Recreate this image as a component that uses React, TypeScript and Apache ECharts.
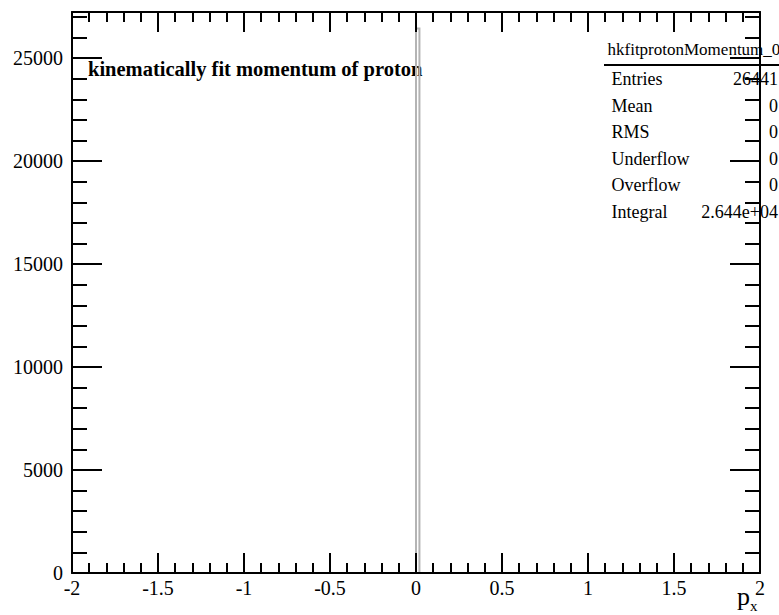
import React, { useEffect, useRef } from "react";
import * as echarts from "echarts";

// Histogram: kinematically fit momentum of proton (p_x)
const binLowEdges = [0.0];
const binWidth = 0.02;
const binCounts = [26441];

const xMin = -2;
const xMax = 2;
const yMax = 27240;

const histTitle = "kinematically fit momentum of proton";
const statsTitle = "hkfitprotonMomentum_0";
const statLabels = ["Entries", "Mean", "RMS", "Underflow", "Overflow", "Integral"];
const statValues = ["26441", "0", "0", "0", "0", "2.644e+04"];

const FONT = "'Liberation Serif', 'Times New Roman', serif";
const INK = "#000000";

export default function App() {
  const ref = useRef<HTMLDivElement>(null);

  useEffect(() => {
    if (!ref.current) return;
    const chart = echarts.init(ref.current, null, { renderer: "svg" });

    const tickStyle = { color: INK, width: 2 };
    const frameStyle = { color: INK, width: 2 };

    const xAxisBase = (position: string, major: boolean, labels: boolean) => ({
      type: "value",
      position,
      min: xMin,
      max: xMax,
      interval: major ? 0.5 : 0.1,
      z: 10,
      splitLine: { show: false },
      axisLine: { show: major, onZero: false, lineStyle: frameStyle },
      axisTick: { show: true, inside: true, length: major ? 20 : 10, lineStyle: tickStyle },
      axisLabel: {
        show: labels,
        margin: 5,
        color: INK,
        fontFamily: FONT,
        fontSize: 20,
        formatter: (v: number) => String(v),
      },
    });

    const yAxisBase = (position: string, major: boolean, labels: boolean) => ({
      type: "value",
      position,
      min: 0,
      max: yMax,
      interval: major ? 5000 : 1000,
      z: 10,
      splitLine: { show: false },
      axisLine: { show: major, onZero: false, lineStyle: frameStyle },
      axisTick: { show: true, inside: true, length: major ? 30 : 15, lineStyle: tickStyle },
      axisLabel: {
        show: labels,
        margin: 9,
        color: INK,
        fontFamily: FONT,
        fontSize: 20,
        showMaxLabel: false,
        formatter: (v: number) => String(v),
      },
    });

    const statsLeft = 611.5;
    const statsRight = 778;
    const rowY0 = 79;
    const rowStep = 26.5;

    const statTexts: any[] = [];
    statLabels.forEach((lab, i) => {
      statTexts.push({
        type: "text",
        z: 1,
        style: {
          x: statsLeft,
          y: rowY0 + i * rowStep,
          text: lab,
          font: `18px ${FONT}`,
          fill: INK,
          align: "left",
          verticalAlign: "middle",
        },
      });
      statTexts.push({
        type: "text",
        z: 1,
        style: {
          x: statsRight,
          y: rowY0 + i * rowStep,
          text: statValues[i],
          font: `18px ${FONT}`,
          fill: INK,
          align: "right",
          verticalAlign: "middle",
        },
      });
    });

    chart.setOption({
      animation: false,
      backgroundColor: "#ffffff",
      grid: { left: 72, right: 19, top: 12, bottom: 42, containLabel: false },
      xAxis: [
        xAxisBase("bottom", true, true),
        xAxisBase("bottom", false, false),
        xAxisBase("top", true, false),
        xAxisBase("top", false, false),
      ],
      yAxis: [
        yAxisBase("left", true, true),
        yAxisBase("left", false, false),
        yAxisBase("right", true, false),
        yAxisBase("right", false, false),
      ],
      series: [
        {
          type: "custom",
          xAxisIndex: 0,
          yAxisIndex: 0,
          z: 2,
          encode: { x: [0, 1], y: 2 },
          data: binLowEdges.map((lo, i) => [lo, lo + binWidth, binCounts[i]]),
          renderItem: (_params: any, api: any) => {
            const lo = api.value(0);
            const hi = api.value(1);
            const c = api.value(2);
            return {
              type: "polyline",
              shape: {
                points: [api.coord([lo, 0]), api.coord([lo, c]), api.coord([hi, c]), api.coord([hi, 0])],
              },
              style: { stroke: "#b4b4b4", lineWidth: 2, fill: null },
            };
          },
        },
      ],
      graphic: [
        {
          type: "text",
          z: 1,
          style: {
            x: 88,
            y: 69,
            text: histTitle,
            font: `bold 20.5px ${FONT}`,
            fill: INK,
            align: "left",
            verticalAlign: "middle",
          },
        },
        {
          type: "text",
          z: 1,
          style: {
            x: 607.5,
            y: 49,
            text: statsTitle,
            font: `17px ${FONT}`,
            fill: INK,
            align: "left",
            verticalAlign: "middle",
          },
        },
        {
          type: "line",
          z: 1,
          shape: { x1: 604, y1: 65, x2: 779, y2: 65 },
          style: { stroke: INK, lineWidth: 2 },
        },
        ...statTexts,
        {
          type: "text",
          z: 1,
          style: {
            x: 737,
            y: 596,
            text: "p",
            font: `26px ${FONT}`,
            fill: INK,
            align: "left",
            verticalAlign: "middle",
          },
        },
        {
          type: "text",
          z: 1,
          style: {
            x: 750,
            y: 606,
            text: "x",
            font: `15px ${FONT}`,
            fill: INK,
            align: "left",
            verticalAlign: "middle",
          },
        },
      ],
    });

    return () => chart.dispose();
  }, []);

  return (
    <div
      ref={ref}
      style={{ position: "fixed", left: 0, top: 0, width: 779, height: 615, background: "#fff" }}
    />
  );
}
